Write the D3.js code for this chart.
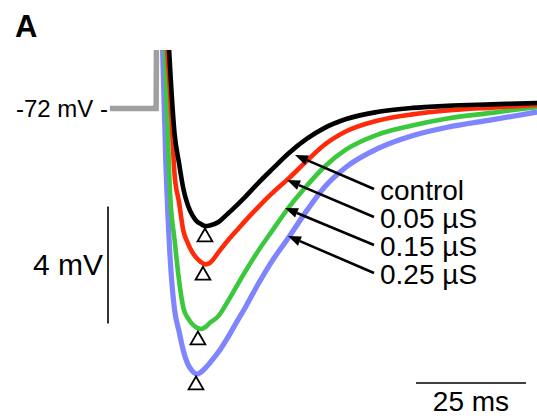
<!DOCTYPE html>
<html><head><meta charset="utf-8">
<script src="https://cdn.jsdelivr.net/npm/d3@7"></script>
<style>
html,body{margin:0;padding:0;background:#fff;}
svg{display:block;}
text{font-family:"Liberation Sans",Arial,Helvetica,sans-serif;fill:#000;}
</style></head>
<body>
<script>
// ---- data (time in ms from stimulus, membrane potential in mV) ----
const seriesNames = ["control", "0.05 µS", "0.15 µS", "0.25 µS"];
const seriesColors = ["#000000", "#ff2a0a", "#3cc83c", "#7f84ff"];

const controlTimes = [2.6,3,4,5,6,7,8,9,10,11,12,14,16,18,20,23,26,30,34,38,43,50,58,66,76,86.4];
const controlValues = [-69.59,-70.68,-72.87,-73.86,-74.75,-75.30,-75.64,-75.85,-75.95,-76.02,-76.00,-75.88,-75.61,-75.33,-75.03,-74.55,-74.10,-73.52,-73.04,-72.67,-72.36,-72.12,-71.98,-71.91,-71.86,-71.81];

const g005Times = [2.1,3,4,5,6,7,8,9,10,11,12,14,16,18,20,23,26,30,34,38,43,50,58,66,76,86.4];
const g005Values = [-69.59,-71.47,-74.27,-75.20,-76.19,-76.60,-76.91,-77.11,-77.25,-77.33,-77.28,-76.91,-76.53,-76.19,-75.85,-75.37,-74.92,-74.38,-73.80,-73.25,-72.78,-72.42,-72.20,-72.07,-71.97,-71.88];

const g015Times = [1.7,2,3,4,5,6,7,8,9,10,11,12,14,16,18,20,23,26,30,34,38,43,50,58,66,76,86.4];
const g015Values = [-69.59,-70.85,-74.99,-76.50,-77.86,-78.82,-79.16,-79.37,-79.49,-79.54,-79.47,-79.33,-79.09,-78.62,-78.10,-77.59,-76.87,-76.22,-75.37,-74.65,-74.00,-73.40,-72.90,-72.58,-72.34,-72.15,-71.95];

const g025Times = [1.2,2,3,4,5,6,7,8,9,10,11,12,14,16,18,20,23,26,30,34,38,43,50,58,66,76,86.4];
const g025Values = [-69.59,-73.83,-77.15,-78.89,-79.61,-80.29,-80.74,-80.97,-81.08,-81.01,-80.87,-80.70,-80.32,-79.85,-79.33,-78.82,-78.00,-77.25,-76.39,-75.50,-74.70,-74.00,-73.38,-72.93,-72.64,-72.39,-72.12];

const preTimes = [-10.7,-0.2,-0.1];
const preValues = [-72.0,-72.0,-69.0];

const peakTimes = [10.9, 10.45, 9.3, 8.86];
const peakValues = [-76.02, -77.33, -79.54, -81.08];

const restingLabel = "-72 mV -";
const scaleBarV = 4;   // mV
const scaleBarT = 25;  // ms

// ---- layout ----
const W = 537, H = 418;
const svg = d3.select("body").append("svg").attr("width", W).attr("height", H);

const x = d3.scaleLinear().domain([0, 86.4]).range([157, 157 + 86.4 * 4.4]);
const y = d3.scaleLinear().domain([-72, -76]).range([108.5, 108.5 + 4 * 29.25]);

svg.append("defs").append("clipPath").attr("id", "clip")
  .append("rect").attr("x", 0).attr("y", 50).attr("width", W).attr("height", H - 50);

const line = d3.line().x(d => x(d[0])).y(d => y(d[1])).curve(d3.curveMonotoneX);
const lineLin = d3.line().x(d => x(d[0])).y(d => y(d[1]));

const plot = svg.append("g").attr("clip-path", "url(#clip)");

// pre-stimulus grey trace
plot.append("path")
  .datum(d3.zip(preTimes, preValues))
  .attr("d", lineLin)
  .attr("fill", "none").attr("stroke", "#a0a0a0").attr("stroke-width", 5.5)
  .attr("stroke-linejoin", "miter");

const seriesTimes = [controlTimes, g005Times, g015Times, g025Times];
const seriesValues = [controlValues, g005Values, g015Values, g025Values];

[3, 2, 1, 0].forEach(i => {
  plot.append("path")
    .datum(d3.zip(seriesTimes[i], seriesValues[i]))
    .attr("d", line)
    .attr("fill", "none")
    .attr("stroke", seriesColors[i])
    .attr("stroke-width", i === 3 ? 5.2 : 4.6)
    .attr("stroke-linejoin", "round");
});

// peak markers (open triangles)
const tri = d3.symbol().type(d3.symbolTriangle).size(95);
svg.selectAll(".peak").data(peakTimes).join("path")
  .attr("class", "peak")
  .attr("d", tri)
  .attr("transform", (d, i) => `translate(${x(d)},${y(peakValues[i]) + 11})`)
  .attr("fill", "#fff").attr("stroke", "#000").attr("stroke-width", 1.8);

// labels + arrows
const labelX = 380;
const labelY = [190, 218, 246, 274];
const tipXY = [[295, 155], [287, 180], [285, 208], [288, 236]];

seriesNames.forEach((name, i) => {
  const x1 = 374, y1 = labelY[i] - 1;
  const [x2, y2] = tipXY[i];
  const ang = Math.atan2(y2 - y1, x2 - x1);
  const hl = 13, hw = 5;
  const bx = x2 - hl * Math.cos(ang), by = y2 - hl * Math.sin(ang);
  svg.append("line").attr("x1", x1).attr("y1", y1).attr("x2", bx).attr("y2", by)
    .attr("stroke", "#000").attr("stroke-width", 2.6);
  const px = -Math.sin(ang), py = Math.cos(ang);
  svg.append("path")
    .attr("d", `M${x2},${y2}L${bx + px * hw},${by + py * hw}L${bx - px * hw},${by - py * hw}Z`)
    .attr("fill", "#000");
  svg.append("text").attr("x", labelX).attr("y", labelY[i])
    .attr("dominant-baseline", "central")
    .attr("font-size", 28).text(name);
});

// resting potential label
svg.append("text").attr("x", 16).attr("y", 108.5)
  .attr("dominant-baseline", "central").attr("font-size", 24).text(restingLabel);

// vertical scale bar
const sbx = 108;
svg.append("line").attr("x1", sbx).attr("x2", sbx)
  .attr("y1", y(-75.35)).attr("y2", y(-75.35 - scaleBarV))
  .attr("stroke", "#000").attr("stroke-width", 1.6);
svg.append("text").attr("x", 103).attr("y", (y(-75.35) + y(-75.35 - scaleBarV)) / 2)
  .attr("text-anchor", "end").attr("dominant-baseline", "central")
  .attr("font-size", 30).text(scaleBarV + " mV");

// horizontal scale bar
const sbt0 = 58.86;
svg.append("line").attr("x1", x(sbt0)).attr("x2", x(sbt0 + scaleBarT))
  .attr("y1", 383).attr("y2", 383).attr("stroke", "#000").attr("stroke-width", 1.6);
svg.append("text").attr("x", (x(sbt0) + x(sbt0 + scaleBarT)) / 2).attr("y", 401)
  .attr("text-anchor", "middle").attr("dominant-baseline", "central")
  .attr("font-size", 28).text(scaleBarT + " ms");

// panel letter
svg.append("text").attr("x", 15).attr("y", 37)
  .attr("font-size", 31).attr("font-weight", "bold").text("A");
</script>
</body></html>
